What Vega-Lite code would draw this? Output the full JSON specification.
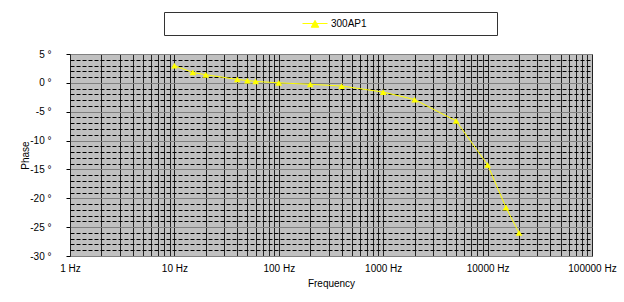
{
  "$schema": "https://vega.github.io/schema/vega-lite/v6.json",
  "width": 522,
  "height": 202,
  "autosize": {"type": "none"},
  "padding": {"left": 70, "top": 54, "right": 32, "bottom": 46},
  "background": "white",
  "config": {
    "font": "Liberation Sans",
    "view": {"fill": "#c0c0c0", "stroke": "#808080", "strokeWidth": 1}
  },
  "data": {
    "values": [
      {"frequency": 10, "phase": 3.0, "series": "300AP1"},
      {"frequency": 15, "phase": 1.8, "series": "300AP1"},
      {"frequency": 20, "phase": 1.4, "series": "300AP1"},
      {"frequency": 40, "phase": 0.6, "series": "300AP1"},
      {"frequency": 50, "phase": 0.4, "series": "300AP1"},
      {"frequency": 60, "phase": 0.25, "series": "300AP1"},
      {"frequency": 100, "phase": 0.0, "series": "300AP1"},
      {"frequency": 200, "phase": -0.25, "series": "300AP1"},
      {"frequency": 400, "phase": -0.55, "series": "300AP1"},
      {"frequency": 1000, "phase": -1.6, "series": "300AP1"},
      {"frequency": 2000, "phase": -2.9, "series": "300AP1"},
      {"frequency": 5000, "phase": -6.6, "series": "300AP1"},
      {"frequency": 10000, "phase": -14.2, "series": "300AP1"},
      {"frequency": 15000, "phase": -21.6, "series": "300AP1"},
      {"frequency": 20000, "phase": -26.0, "series": "300AP1"}
    ]
  },
  "mark": {
    "type": "line",
    "color": "#ffff00",
    "strokeWidth": 1,
    "point": {"shape": "triangle-up", "size": 45, "filled": true, "color": "#ffff00", "opacity": 1}
  },
  "encoding": {
    "x": {
      "field": "frequency",
      "type": "quantitative",
      "scale": {"type": "log", "domain": [1, 100000]},
      "axis": {
        "title": "Frequency",
        "values": [1,2,3,4,5,6,7,8,9,10,20,30,40,50,60,70,80,90,100,200,300,400,500,600,700,800,900,1000,2000,3000,4000,5000,6000,7000,8000,9000,10000,20000,30000,40000,50000,60000,70000,80000,90000,100000],
        "labelExpr": "indexof([1,10,100,1000,10000,100000], datum.value) >= 0 ? datum.value + ' Hz' : ''",
        "labelOverlap": false,
        "labelFlush": false,
        "labelFontSize": 10,
        "labelColor": "#000",
        "labelPadding": 7,
        "grid": true,
        "gridColor": "#222",
        "gridWidth": 1,
        "gridOpacity": 1,
        "ticks": false,
        "domain": false,
        "titleFontSize": 10,
        "titleFontWeight": "normal",
        "titleColor": "#000",
        "titleY": 22
      }
    },
    "y": {
      "field": "phase",
      "type": "quantitative",
      "scale": {"domain": [-30, 5], "nice": false, "zero": false},
      "axis": {
        "title": "Phase",
        "values": [-30,-29,-28,-27,-26,-25,-24,-23,-22,-21,-20,-19,-18,-17,-16,-15,-14,-13,-12,-11,-10,-9,-8,-7,-6,-5,-4,-3,-2,-1,0,1,2,3,4,5],
        "labelExpr": "datum.value % 5 === 0 ? datum.value + ' °' : ''",
        "labelOverlap": false,
        "labelFlush": false,
        "labelFontSize": 10,
        "labelColor": "#000",
        "labelPadding": 15,
        "tickSize": 4,
        "tickColor": "#000",
        "tickOpacity": {"condition": {"test": "datum.value % 5 === 0", "value": 1}, "value": 0},
        "grid": true,
        "gridWidth": 1,
        "gridOpacity": 1,
        "gridColor": {"condition": {"test": "datum.value % 5 === 0", "value": "#808080"}, "value": "#000000"},
        "gridDash": {"condition": {"test": "datum.value % 5 === 0", "value": []}, "value": [4, 2]},
        "domain": false,
        "titleFontSize": 10,
        "titleFontWeight": "normal",
        "titleColor": "#000",
        "titleX": -40,
        "titleY": 101
      }
    },
    "color": {
      "field": "series",
      "type": "nominal",
      "scale": {"range": ["#ffff00"]},
      "legend": {
        "orient": "none",
        "legendX": 94,
        "legendY": -42,
        "title": "\u00a0",
        "titleOrient": "right",
        "titlePadding": 125,
        "titleFontSize": 10,
        "fillColor": "#ffffff",
        "strokeColor": "#333333",
        "padding": 5,
        "clipHeight": 13,
        "symbolType": "M-1,0H1M-0.3,0.3L0,-0.25L0.3,0.3Z",
        "symbolSize": 625,
        "symbolOffset": 133,
        "labelOffset": 3,
        "labelFontSize": 10,
        "labelColor": "#000",
        "encode": {
          "symbols": {"update": {"fill": {"value": "#ffff00"}, "stroke": {"value": "#ffff00"}, "strokeWidth": {"value": 1}, "opacity": {"value": 1}}}
        }
      }
    }
  }
}
